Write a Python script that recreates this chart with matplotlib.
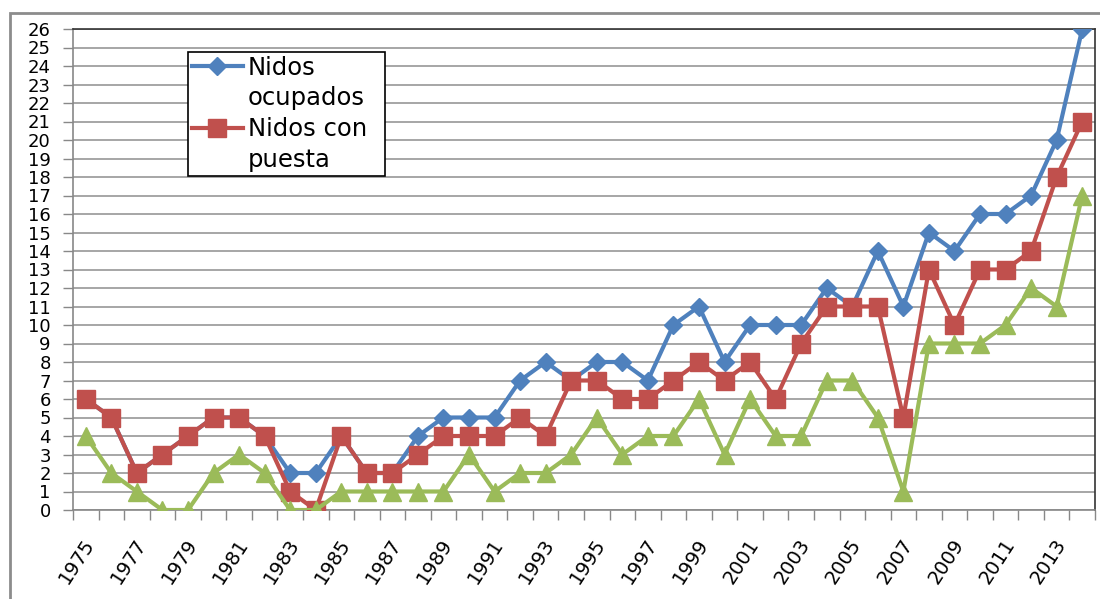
import matplotlib.pyplot as plt
from matplotlib.lines import Line2D
from matplotlib.patches import Rectangle
import matplotlib.transforms as mtransforms


years = list(range(1975, 2015))

ocupados = [6, 5, 2, 3, 4, 5, 5, 4, 2, 2,
            4, 2, 2, 4, 5, 5, 5, 7, 8, 7,
            8, 8, 7, 10, 11, 8, 10, 10, 10, 12,
            11, 14, 11, 15, 14, 16, 16, 17, 20, 26]

con_puesta = [6, 5, 2, 3, 4, 5, 5, 4, 1, 0,
              4, 2, 2, 3, 4, 4, 4, 5, 4, 7,
              7, 6, 6, 7, 8, 7, 8, 6, 9, 11,
              11, 11, 5, 13, 10, 13, 13, 14, 18, 21]

tercera = [4, 2, 1, 0, 0, 2, 3, 2, 0, 0,
           1, 1, 1, 1, 1, 3, 1, 2, 2, 3,
           5, 3, 4, 4, 6, 3, 6, 4, 4, 7,
           7, 5, 1, 9, 9, 9, 10, 12, 11, 17]

BLUE = "#4F81BD"
RED = "#C0504D"
GREEN = "#9BBB59"

plt.rcParams["font.family"] = ["DejaVu Sans"]

fig = plt.figure(figsize=(11, 5.99), dpi=100)
ax = fig.add_axes([73 / 1100, 89 / 599, 1022 / 1100, 481 / 599])

x = list(range(len(years)))
ax.plot(x, ocupados, color=BLUE, lw=3, marker="D", ms=9.5, zorder=3)
ax.plot(x, con_puesta, color=RED, lw=3, marker="s", ms=12.5, zorder=4)
ax.plot(x, tercera, color=GREEN, lw=3, marker="^", ms=12.5, zorder=5)

ax.set_xlim(-0.5, len(years) - 0.5)
ax.set_ylim(0, 26)
ax.set_yticks(range(0, 27))
ax.tick_params(axis="y", labelsize=13, length=7, width=1, color="#888888", pad=9)
ax.yaxis.grid(True, color="#A6A6A6", lw=1.4)
ax.set_axisbelow(True)

# category boundaries get the tick marks, centres get the labels
ax.set_xticks([i - 0.5 for i in range(len(years) + 1)])
ax.set_xticklabels([])
ax.set_xticks(x, minor=True)
ax.set_xticklabels([str(y) if y % 2 == 1 else "" for y in years], minor=True,
                   rotation=57, ha="right", va="center", rotation_mode="anchor",
                   fontsize=14)
ax.tick_params(axis="x", which="major", length=7, width=1, color="#888888")
ax.tick_params(axis="x", which="minor", length=0, pad=22)
offset = mtransforms.ScaledTranslation(5 / 100, 0, fig.dpi_scale_trans)
for lab in ax.get_xticklabels(minor=True):
    lab.set_transform(lab.get_transform() + offset)

for side in ["left", "bottom"]:
    ax.spines[side].set_color("#888888")
    ax.spines[side].set_linewidth(1.2)
for side in ["top", "right"]:
    ax.spines[side].set_color("#333333")
    ax.spines[side].set_linewidth(1.2)

# outer chart border
fig.patches.append(Rectangle((10 / 1100, -0.05), 1.2, (599 - 13) / 599 + 0.05,
                             transform=fig.transFigure, fill=False,
                             edgecolor="#8C8C8C", lw=2))

blank = Line2D([], [], color="none")
handles = [Line2D([], [], color=BLUE, lw=3, marker="D", ms=9.5), blank,
           Line2D([], [], color=RED, lw=3, marker="s", ms=12.5), blank]
labels = ["Nidos", "ocupados", "Nidos con", "puesta"]
leg = ax.legend(handles, labels, loc="upper left", mode="expand",
                bbox_to_anchor=(188 / 1100, (599 - 52) / 599, 197 / 1100, 0),
                bbox_transform=fig.transFigure, fontsize=17.5,
                frameon=True, fancybox=False, edgecolor="black",
                framealpha=1, handlelength=2.1, handletextpad=0.2,
                labelspacing=0.28, borderpad=0.15, borderaxespad=0)
leg.get_frame().set_linewidth(1.2)

fig.savefig("out.png", dpi=100)
